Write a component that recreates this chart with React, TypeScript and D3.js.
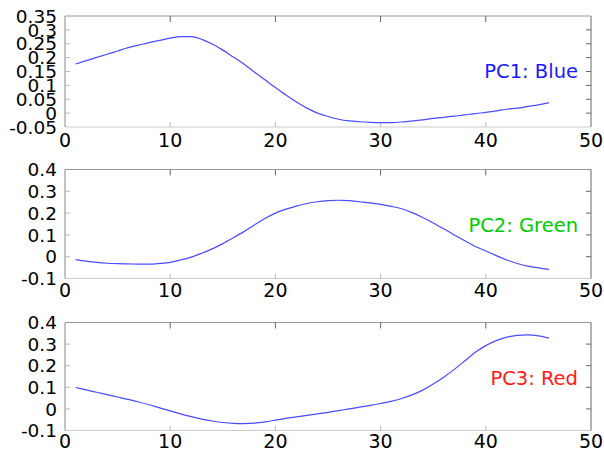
import React, { useEffect, useRef } from "react";
import * as d3 from "d3";

// sample index 1..46
const xs = d3.range(1, 47);

const pc1 = [
  0.177, 0.189, 0.201, 0.212, 0.224, 0.236, 0.245, 0.254, 0.262, 0.27,
  0.276, 0.276, 0.266, 0.249, 0.227, 0.202, 0.177, 0.148, 0.12, 0.092,
  0.065, 0.04, 0.018, 0.0, -0.012, -0.022, -0.028, -0.031, -0.033, -0.034,
  -0.034, -0.032, -0.028, -0.024, -0.019, -0.015, -0.011, -0.006, -0.002, 0.003,
  0.008, 0.014, 0.018, 0.024, 0.03, 0.037,
];

const pc2 = [
  -0.013, -0.02, -0.026, -0.03, -0.032, -0.033, -0.034, -0.034, -0.031, -0.026,
  -0.015, -0.002, 0.016, 0.036, 0.06, 0.087, 0.115, 0.145, 0.175, 0.2,
  0.218, 0.232, 0.244, 0.252, 0.257, 0.259, 0.257, 0.252, 0.247, 0.24,
  0.231, 0.22, 0.202, 0.18, 0.155, 0.128, 0.1, 0.073, 0.047, 0.026,
  0.005, -0.015, -0.031, -0.043, -0.051, -0.058,
];

const pc3 = [
  0.099, 0.088, 0.077, 0.066, 0.055, 0.044, 0.032, 0.019, 0.005, -0.009,
  -0.023, -0.036, -0.047, -0.056, -0.063, -0.067, -0.068, -0.066, -0.06, -0.052,
  -0.044, -0.037, -0.03, -0.023, -0.016, -0.008, 0.0, 0.008, 0.016, 0.025,
  0.035, 0.048, 0.065, 0.087, 0.115, 0.147, 0.183, 0.222, 0.262, 0.293,
  0.316, 0.332, 0.34, 0.343, 0.338, 0.328,
];

const xTicks = [0, 10, 20, 30, 40, 50];
const yTicks1 = [-0.05, 0, 0.05, 0.1, 0.15, 0.2, 0.25, 0.3, 0.35];
const yTicks23 = [-0.1, 0, 0.1, 0.2, 0.3, 0.4];

const panels = [
  { values: pc1, label: "PC1: Blue", color: "#1a1aff", domain: [-0.05, 0.35], ticks: yTicks1, top: 16, bottom: 127, xl: 20 },
  { values: pc2, label: "PC2: Green", color: "#00cc00", domain: [-0.1, 0.4], ticks: yTicks23, top: 169.5, bottom: 278.5, xl: 18.5 },
  { values: pc3, label: "PC3: Red", color: "#ff1a1a", domain: [-0.1, 0.4], ticks: yTicks23, top: 322.5, bottom: 430.5, xl: 17.5 },
];

const width = 604;
const height = 452;
const left = 65;
const right = 591;
const font = "'DejaVu Sans', sans-serif";

export default function App() {
  const ref = useRef<SVGSVGElement>(null);

  useEffect(() => {
    const svg = d3.select(ref.current);
    svg.selectAll("*").remove();

    const x = d3.scaleLinear().domain([0, 50]).range([left, right]);

    panels.forEach((p) => {
      const y = d3.scaleLinear().domain(p.domain).range([p.bottom, p.top]);
      const g = svg.append("g");

      // frame
      g.append("line").attr("x1", left).attr("x2", right).attr("y1", p.top).attr("y2", p.top).attr("stroke", "#999");
      g.append("line").attr("x1", left).attr("x2", right).attr("y1", p.bottom).attr("y2", p.bottom).attr("stroke", "#ccc");
      g.append("line").attr("x1", left).attr("x2", left).attr("y1", p.top).attr("y2", p.bottom).attr("stroke", "#888");
      g.append("line").attr("x1", right).attr("x2", right).attr("y1", p.top).attr("y2", p.bottom).attr("stroke", "#666");

      // x ticks, inward on top and bottom
      xTicks.slice(1, -1).forEach((t) => {
        g.append("line").attr("x1", x(t)).attr("x2", x(t)).attr("y1", p.top).attr("y2", p.top + 6).attr("stroke", "#666");
        g.append("line").attr("x1", x(t)).attr("x2", x(t)).attr("y1", p.bottom).attr("y2", p.bottom - 5).attr("stroke", "#bbb");
      });
      g.selectAll(".xl")
        .data(xTicks)
        .join("text")
        .attr("x", (d) => x(d))
        .attr("y", p.bottom + p.xl)
        .attr("text-anchor", "middle")
        .attr("font-family", font)
        .attr("font-size", 19)
        .attr("fill", "#000")
        .text((d) => d);

      // y ticks, inward on left and right
      p.ticks.slice(1, -1).forEach((t) => {
        g.append("line").attr("x1", left).attr("x2", left + 5).attr("y1", y(t)).attr("y2", y(t)).attr("stroke", "#bbb");
        g.append("line").attr("x1", right).attr("x2", right - 5).attr("y1", y(t)).attr("y2", y(t)).attr("stroke", "#666");
      });
      g.selectAll(".yl")
        .data(p.ticks)
        .join("text")
        .attr("x", 57)
        .attr("y", (d) => y(d))
        .attr("dy", "0.36em")
        .attr("text-anchor", "end")
        .attr("font-family", font)
        .attr("font-size", 18.5)
        .attr("fill", "#000")
        .text((d) => String(d));

      const line = d3
        .line<number>()
        .x((_, i) => x(xs[i]))
        .y((d) => y(d))
        .curve(d3.curveMonotoneX);

      g.append("path")
        .datum(p.values)
        .attr("d", line)
        .attr("fill", "none")
        .attr("stroke", "#4a4aff")
        .attr("stroke-width", 1.2);

      g.append("text")
        .attr("x", 578)
        .attr("y", p.top + 62.3)
        .attr("text-anchor", "end")
        .attr("font-family", font)
        .attr("font-size", 19.5)
        .attr("fill", p.color)
        .text(p.label);
    });
  }, []);

  return (
    <svg
      ref={ref}
      width={width}
      height={height}
      style={{ position: "absolute", left: 0, top: 0, background: "#fff" }}
    />
  );
}
